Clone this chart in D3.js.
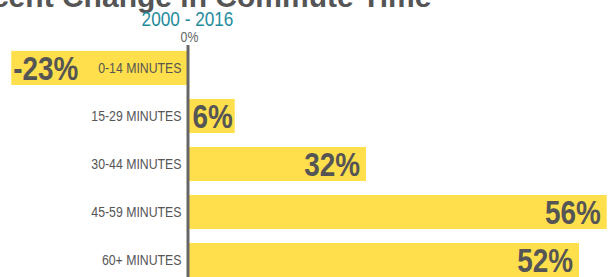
<!DOCTYPE html>
<html>
<head>
<meta charset="utf-8">
<script src="https://cdn.jsdelivr.net/npm/d3@7/dist/d3.min.js"></script>
<style>
  html, body { margin: 0; padding: 0; background: #fff; overflow: hidden; }
  svg { display: block; }
</style>
</head>
<body>
<svg id="chart" width="610" height="277"></svg>
<script>
// ---- data ----
const categories = ["0-14 MINUTES", "15-29 MINUTES", "30-44 MINUTES", "45-59 MINUTES", "60+ MINUTES"];
const barValues = [-23.5, 6.3, 23.8, 55.9, 52.2];          // bar lengths as drawn (percent)
const valueLabels = ["-23%", "6%", "32%", "56%", "52%"];   // printed labels
const title = "Percent Change in Commute Time";
const subtitle = "2000 - 2016";
const zeroLabel = "0%";

// ---- layout ----
const svg = d3.select("#chart");
const sans = "'Liberation Sans', Arial, sans-serif";
const SQ = 0.82; // horizontal condensing to mimic a narrow face
const x = d3.scaleLinear().domain([-25, 56]).range([0, 607.5]);
const y = d3.scaleBand().domain(categories).range([37, 291]).paddingInner(0.29).paddingOuter(0.29);

const rows = categories.map((c, i) => ({ c, v: barValues[i], label: valueLabels[i] }));

function narrowText(parent, tx, ty, anchor) {
  return parent.append("text")
    .attr("transform", `translate(${tx},${ty}) scale(${SQ},1)`)
    .attr("text-anchor", anchor)
    .style("font-family", sans);
}

// title
svg.append("text")
  .attr("x", x(0)).attr("y", 7)
  .attr("text-anchor", "middle")
  .style("font-family", sans)
  .style("font-weight", "bold")
  .style("font-size", "30px")
  .style("fill", "#555")
  .text(title);

narrowText(svg, x(0), 26, "middle")
  .style("font-size", "21px")
  .style("fill", "#1f8c9e")
  .text(subtitle);

narrowText(svg, x(0) + 2, 42, "middle")
  .style("font-size", "15px")
  .style("fill", "#666")
  .text(zeroLabel);

// bars
svg.append("g").selectAll("rect").data(rows).join("rect")
  .attr("x", d => Math.min(x(0), x(d.v)))
  .attr("width", d => Math.abs(x(d.v) - x(0)))
  .attr("y", d => y(d.c))
  .attr("height", y.bandwidth())
  .attr("fill", "#ffe04c");

// zero axis line
svg.append("line")
  .attr("x1", x(0) + 0.5).attr("x2", x(0) + 0.5)
  .attr("y1", 45).attr("y2", 290)
  .attr("stroke", "#666")
  .attr("stroke-width", 3);

// category labels
const catG = svg.append("g");
rows.forEach(d => {
  narrowText(catG, x(0) - 6, y(d.c) + y.bandwidth() / 2 + 5.3, "end")
    .style("font-size", "15px")
    .style("fill", "#555")
    .text(d.c);
});

// value labels
const valG = svg.append("g");
rows.forEach(d => {
  const cy = y(d.c) + y.bandwidth() / 2 + 12;
  const t = narrowText(valG, 0, cy, d.v < 0 ? "start" : "end")
    .style("font-weight", "bold")
    .style("font-size", "34px")
    .style("fill", "#555")
    .text(d.label);
  let tx;
  if (d.v < 0) {
    tx = x(d.v) + 2;
  } else {
    const w = t.node().getComputedTextLength() * SQ;
    tx = Math.max(x(d.v) - 6, x(0) + 5 + w);
  }
  t.attr("transform", `translate(${tx},${cy}) scale(${SQ},1)`);
});
</script>
</body>
</html>
